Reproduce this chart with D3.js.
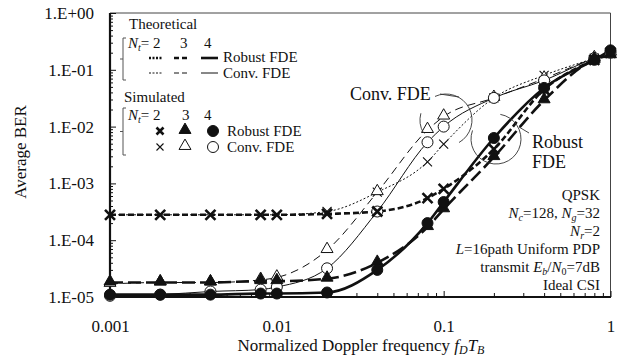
<html><head><meta charset="UTF-8"></head>
<body style="margin:0">
<script src="https://cdnjs.cloudflare.com/ajax/libs/d3/7.8.5/d3.min.js"></script>
<script>
// normalized Doppler frequency fD*TB
var dopplerX = [0.001, 0.002, 0.004, 0.008, 0.01, 0.02, 0.04, 0.08, 0.1, 0.2, 0.4, 0.8, 1];

// average BER
var robust2 = [2.8e-4, 2.8e-4, 2.8e-4, 2.8e-4, 2.8e-4, 2.9e-4, 3.2e-4, 5.5e-4, 8.0e-4, 4.0e-3, 4.5e-2, 0.15, 0.20];
var robust3 = [1.8e-5, 1.8e-5, 1.8e-5, 1.9e-5, 1.9e-5, 2.1e-5, 4.0e-5, 1.7e-4, 3.5e-4, 2.9e-3, 2.9e-2, 0.15, 0.18];
var robust4 = [1.1e-5, 1.1e-5, 1.1e-5, 1.15e-5, 1.15e-5, 1.2e-5, 3.0e-5, 2.0e-4, 4.7e-4, 6.3e-3, 4.8e-2, 0.15, 0.22];
var conv2 = [2.8e-4, 2.8e-4, 2.8e-4, 2.8e-4, 2.8e-4, 3.2e-4, 7.0e-4, 2.4e-3, 4.9e-3, 3.2e-2, 8.0e-2, 0.16, 0.20];
var conv3 = [1.7e-5, 1.8e-5, 1.8e-5, 2.0e-5, 2.2e-5, 6.7e-5, 7.0e-4, 8.7e-3, 1.5e-2, 3.2e-2, 7.0e-2, 0.16, 0.20];
var conv4 = [1.05e-5, 1.1e-5, 1.25e-5, 1.35e-5, 1.5e-5, 3.2e-5, 3.2e-4, 5.3e-3, 1.0e-2, 3.2e-2, 6.5e-2, 0.16, 0.20];

var xTicks = [0.001, 0.01, 0.1, 1];
var xTickLabels = ["0.001", "0.01", "0.1", "1"];
var yTicks = [1e-5, 1e-4, 1e-3, 1e-2, 1e-1, 1];
var yTickLabels = ["1.E-05", "1.E-04", "1.E-03", "1.E-02", "1.E-01", "1.E+00"];

var width = 629, height = 359;
var svg = d3.select('body').append('svg').attr('width', width).attr('height', height);

var plotL = 110, plotR = 610.5, plotT = 13, plotB = 297;
var x = d3.scaleLog().domain([0.001, 1]).range([plotL, plotR]);
var y = d3.scaleLog().domain([1e-5, 1]).range([plotB, plotT]);

// frame
svg.append('line').attr('x1', plotL).attr('x2', plotR).attr('y1', plotT).attr('y2', plotT).attr('stroke', '#444').attr('stroke-width', 1);
svg.append('line').attr('x1', plotR).attr('x2', plotR).attr('y1', plotT).attr('y2', plotB).attr('stroke', '#444').attr('stroke-width', 1);

// minor ticks (inside)
var xMinor = x.ticks().filter(function (d) { return xTicks.indexOf(d) < 0; });
var yMinor = y.ticks().filter(function (d) { return yTicks.indexOf(d) < 0; });

svg.append('g').attr('transform', 'translate(0,' + plotB + ')')
  .call(d3.axisTop(x).tickValues(xMinor).tickSize(4).tickFormat(''))
  .call(function (g) { g.select('.domain').remove(); g.selectAll('line').attr('stroke', '#111'); });
svg.append('g').attr('transform', 'translate(' + plotL + ',0)')
  .call(d3.axisRight(y).tickValues(yMinor).tickSize(3).tickFormat(''))
  .call(function (g) { g.select('.domain').remove(); g.selectAll('line').attr('stroke', '#111'); });

// major ticks + labels
var xAxis = svg.append('g').attr('transform', 'translate(0,' + plotB + ')')
  .call(d3.axisBottom(x).tickValues(xTicks).tickSize(0).tickPadding(23)
    .tickFormat(function (d, i) { return xTickLabels[i]; }));
xAxis.select('.domain').remove();
xAxis.selectAll('text').style('font-size', '17px');
svg.append('g').attr('transform', 'translate(0,' + plotB + ')')
  .call(d3.axisTop(x).tickValues(xTicks).tickSize(6).tickFormat(''))
  .call(function (g) { g.select('.domain').remove(); g.selectAll('line').attr('stroke', '#111'); });

var yAxis = svg.append('g').attr('transform', 'translate(' + plotL + ',0)')
  .call(d3.axisLeft(y).tickValues(yTicks).tickSize(0).tickPadding(16)
    .tickFormat(function (d, i) { return yTickLabels[i]; }));
yAxis.select('.domain').remove();
yAxis.selectAll('text').style('font-size', '17px');
svg.append('g').attr('transform', 'translate(' + plotL + ',0)')
  .call(d3.axisRight(y).tickValues(yTicks).tickSize(6).tickFormat(''))
  .call(function (g) { g.select('.domain').remove(); g.selectAll('line').attr('stroke', '#111'); });

svg.append('line').attr('x1', plotL).attr('x2', plotR + 0.5).attr('y1', plotB).attr('y2', plotB).attr('stroke', '#111').attr('stroke-width', 2.2);
svg.append('line').attr('x1', plotL).attr('x2', plotL).attr('y1', plotT).attr('y2', plotB + 1).attr('stroke', '#111').attr('stroke-width', 2.2);

// axis titles
svg.append('text').attr('transform', 'translate(26,152) rotate(-90)').attr('text-anchor', 'middle')
  .style('font-size', '17px').text('Average BER');
var xt = svg.append('text').attr('x', 361).attr('y', 351).attr('text-anchor', 'middle').style('font-size', '17px');
xt.append('tspan').text('Normalized Doppler frequency ');
xt.append('tspan').style('font-style', 'italic').text('f');
xt.append('tspan').style('font-style', 'italic').style('font-size', '12px').attr('dy', 3).text('D');
xt.append('tspan').style('font-style', 'italic').attr('dy', -3).text('T');
xt.append('tspan').style('font-style', 'italic').style('font-size', '12px').attr('dy', 3).text('B');

// curves
var series = [
  { v: conv2, w: 1, dash: '2,2', mark: 'x', fill: 'none', ms: 4.5 },
  { v: conv3, w: 1, dash: '8,5', mark: 'tri', fill: '#fff', ms: 1 },
  { v: conv4, w: 1, dash: null, mark: 'circ', fill: '#fff', ms: 5.5 },
  { v: robust2, w: 2.6, dash: '6,3', mark: 'x', fill: 'none', ms: 5 },
  { v: robust3, w: 2.6, dash: '13,5', mark: 'tri', fill: '#111', ms: 1 },
  { v: robust4, w: 2.6, dash: null, mark: 'circ', fill: '#111', ms: 5.5 }
];

var line = d3.line()
  .x(function (d, i) { return x(dopplerX[i]); })
  .y(function (d) { return y(d); })
  .curve(d3.curveMonotoneX);

series.forEach(function (s) {
  svg.append('path').datum(s.v).attr('d', line)
    .attr('fill', 'none').attr('stroke', '#111').attr('stroke-width', s.w)
    .attr('stroke-dasharray', s.dash);
});

function crossPath(r) {
  return 'M' + (-r) + ',' + (-r) + 'L' + r + ',' + r + 'M' + (-r) + ',' + r + 'L' + r + ',' + (-r);
}
var tri = d3.symbol().type(d3.symbolTriangle).size(62);

function drawMark(g, s, cx, cy) {
  if (s.mark === 'x') {
    g.append('path').attr('d', crossPath(s.ms)).attr('transform', 'translate(' + cx + ',' + cy + ')')
      .attr('stroke', '#111').attr('stroke-width', s.w > 1 ? 2.6 : 1.1).attr('fill', 'none');
  } else if (s.mark === 'tri') {
    g.append('path').attr('d', tri()).attr('transform', 'translate(' + cx + ',' + (cy - 1) + ')')
      .attr('fill', s.fill).attr('stroke', '#111').attr('stroke-width', 1);
  } else {
    g.append('circle').attr('cx', cx).attr('cy', cy).attr('r', s.ms)
      .attr('fill', s.fill).attr('stroke', '#111').attr('stroke-width', 1);
  }
}

var marks = svg.append('g');
series.forEach(function (s) {
  s.v.forEach(function (d, i) { drawMark(marks, s, x(dopplerX[i]), y(d)); });
});

// annotations: circles round the two groups
var ann = svg.append('g').attr('fill', 'none').attr('stroke', '#333').attr('stroke-width', 0.9);
var p1 = d3.path();
p1.arc(446, 120, 26, -115 * Math.PI / 180, 60 * Math.PI / 180);
ann.append('path').attr('d', p1.toString());
var p1b = d3.path();
p1b.arc(446, 120, 26, 150 * Math.PI / 180, 195 * Math.PI / 180);
ann.append('path').attr('d', p1b.toString());
ann.append('line').attr('x1', 440).attr('y1', 94).attr('x2', 459).attr('y2', 97);

var p2 = d3.path();
p2.arc(496, 139, 25, -80 * Math.PI / 180, 200 * Math.PI / 180);
ann.append('path').attr('d', p2.toString());
ann.append('line').attr('x1', 519).attr('y1', 127).attr('x2', 529).attr('y2', 133);

svg.append('text').attr('x', 350).attr('y', 100).style('font-size', '18px').text('Conv. FDE');
svg.append('text').attr('x', 532).attr('y', 148).style('font-size', '18px').text('Robust');
svg.append('text').attr('x', 532).attr('y', 168).style('font-size', '18px').text('FDE');

// parameter block
var info = svg.append('g').attr('text-anchor', 'end').style('font-size', '15px');
var ib = [200, 218, 236, 254, 272, 290];
info.append('text').attr('x', 600).attr('y', ib[0]).text('QPSK');
var t1 = info.append('text').attr('x', 600).attr('y', ib[1]);
t1.append('tspan').style('font-style', 'italic').text('N');
t1.append('tspan').style('font-style', 'italic').style('font-size', '10px').attr('dy', 3).text('c');
t1.append('tspan').attr('dy', -3).text('=128, ');
t1.append('tspan').style('font-style', 'italic').text('N');
t1.append('tspan').style('font-style', 'italic').style('font-size', '10px').attr('dy', 3).text('g');
t1.append('tspan').attr('dy', -3).text('=32');
var t2 = info.append('text').attr('x', 600).attr('y', ib[2]);
t2.append('tspan').style('font-style', 'italic').text('N');
t2.append('tspan').style('font-style', 'italic').style('font-size', '10px').attr('dy', 3).text('r');
t2.append('tspan').attr('dy', -3).text('=2');
var t3 = info.append('text').attr('x', 600).attr('y', ib[3]);
t3.append('tspan').style('font-style', 'italic').text('L');
t3.append('tspan').text('=16path Uniform PDP');
var t4 = info.append('text').attr('x', 600).attr('y', ib[4]);
t4.append('tspan').text('transmit ');
t4.append('tspan').style('font-style', 'italic').text('E');
t4.append('tspan').style('font-style', 'italic').style('font-size', '10px').attr('dy', 3).text('b');
t4.append('tspan').attr('dy', -3).text('/');
t4.append('tspan').style('font-style', 'italic').text('N');
t4.append('tspan').style('font-size', '10px').attr('dy', 3).text('0');
t4.append('tspan').attr('dy', -3).text('=7dB');
info.append('text').attr('x', 600).attr('y', ib[5]).text('Ideal CSI');

// legend
var lg = svg.append('g').style('font-size', '15px');
function bracket(y0, y1) {
  var ym = (y0 + y1) / 2;
  lg.append('path').attr('d', 'M126,' + y0 + 'L123,' + y0 + 'L123,' + y1 + 'L126,' + y1 + 'M123,' + ym + 'L120,' + ym)
    .attr('fill', 'none').attr('stroke', '#555').attr('stroke-width', 1);
}
function ntRow(yb, xs) {
  var t = lg.append('text').attr('x', 128).attr('y', yb);
  t.append('tspan').style('font-style', 'italic').text('N');
  t.append('tspan').style('font-style', 'italic').style('font-size', '10px').attr('dy', 3).text('t');
  t.append('tspan').attr('dy', -3).text('= 2');
  lg.append('text').attr('x', xs[0]).attr('y', yb).text('3');
  lg.append('text').attr('x', xs[1]).attr('y', yb).text('4');
}
lg.append('text').attr('x', 129).attr('y', 29).text('Theoretical');
bracket(38, 80);
ntRow(48, [180, 204]);
var legX = [[149, 163], [174, 190], [201, 218]];
[3, 4, 5].forEach(function (k, j) {
  lg.append('line').attr('x1', legX[j][0]).attr('x2', legX[j][1]).attr('y1', 58).attr('y2', 58)
    .attr('stroke', '#111').attr('stroke-width', series[k].w).attr('stroke-dasharray', k === 3 ? '2,1.5' : (k === 4 ? '5,3' : null));
});
[0, 1, 2].forEach(function (k, j) {
  lg.append('line').attr('x1', legX[j][0]).attr('x2', legX[j][1]).attr('y1', 73).attr('y2', 73)
    .attr('stroke', '#111').attr('stroke-width', 1).attr('stroke-dasharray', k === 0 ? '2,1.5' : (k === 1 ? '5,3' : null));
});
lg.append('text').attr('x', 223).attr('y', 62).text('Robust FDE');
lg.append('text').attr('x', 223).attr('y', 78).text('Conv. FDE');

lg.append('text').attr('x', 124).attr('y', 102).text('Simulated');
bracket(108, 155);
ntRow(120, [182, 204]);
var markX = [160, 185, 213];
[3, 4, 5].forEach(function (k, j) {
  var s = Object.assign({}, series[k], { ms: series[k].mark === 'x' ? 3.5 : series[k].ms });
  drawMark(lg, s, markX[j], 131);
});
[0, 1, 2].forEach(function (k, j) {
  var s = Object.assign({}, series[k], { ms: series[k].mark === 'x' ? 3.5 : series[k].ms });
  drawMark(lg, s, markX[j], 147);
});
lg.append('text').attr('x', 227).attr('y', 136).text('Robust  FDE');
lg.append('text').attr('x', 227).attr('y', 152).text('Conv. FDE');

// serif everywhere
svg.selectAll('g').attr('font-family', null);
svg.selectAll('text').attr('font-family', 'Liberation Serif').style('font-family', "'Liberation Serif'").style('fill', '#111');
</script>
</body></html>
